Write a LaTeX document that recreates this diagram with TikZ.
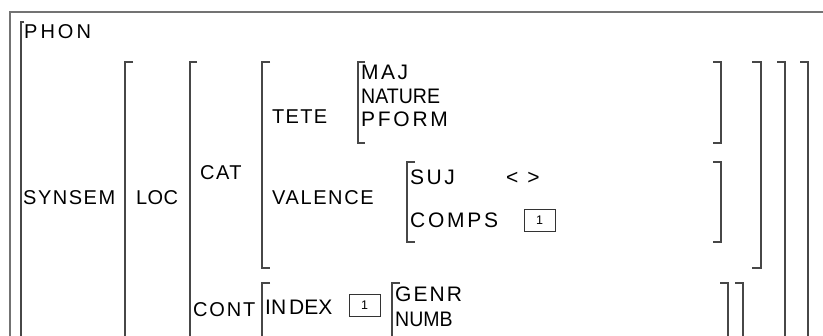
\documentclass[tikz,border=0pt]{standalone}
\usepackage{fontspec}
\setmainfont{Liberation Sans}
\newcommand\lsp[1]{\addfontfeatures{LetterSpace=#1}}
\newcommand\fst[1]{\addfontfeatures{FakeStretch=#1}}
\newcommand\lbrk[4]{\draw[brk] (#1+#4,#2) -- (#1,#2) -- (#1,#3) -- (#1+#4,#3);}
\newcommand\rbrk[4]{\draw[brk] (#1-#4,#2) -- (#1,#2) -- (#1,#3) -- (#1-#4,#3);}
\begin{document}
\begin{tikzpicture}[x=1pt,y=-1pt,
  brk/.style={draw=black!72,line width=1.2pt},
  frame/.style={draw=black!55,line width=1.6pt},
  lab/.style={anchor=base west,inner sep=0pt,font=\fontsize{20pt}{24pt}\selectfont},
  val/.style={anchor=base west,inner sep=0pt,font=\fontsize{21pt}{25pt}\selectfont},
  tagbox/.style={draw=black!80,line width=0.9pt,minimum width=31pt,minimum height=22pt,inner sep=0pt,font=\fontsize{12.5pt}{14pt}\selectfont}]
\useasboundingbox (0,0) rectangle (823,336);
\clip (0,0) rectangle (823,336);
\fill[white] (0,0) rectangle (823,336);
% outer frame
\draw[frame] (10,345) -- (10,12) -- (830,12);
% left brackets
\lbrk{21}{22}{345}{3}
\lbrk{125}{62}{345}{8}
\lbrk{190}{62}{345}{7}
\lbrk{262}{62}{268}{8}
\lbrk{358}{62}{143}{7}
\lbrk{407}{162}{242}{8}
\lbrk{262}{283}{345}{8}
\lbrk{392}{283}{345}{8}
% right brackets
\rbrk{721}{62}{143}{8}
\rbrk{721}{162}{242}{8}
\rbrk{761}{62}{268}{9}
\rbrk{785}{62}{345}{8}
\rbrk{808}{62}{345}{8}
\rbrk{728}{283}{345}{8}
\rbrk{743}{283}{345}{8}
% labels
\node[lab] (phon) at (24,39) {\lsp{15}PHON};
\node[lab] (synsem) at (23,205) {\lsp{7.5}SYNSEM};
\node[lab] (loc) at (136,205) {\lsp{2}LOC};
\node[lab] (cat) at (200,180) {\lsp{7.5}CAT};
\node[lab] (cont) at (193,317) {\lsp{9}CONT};
\node[lab] (tete) at (272,124) {\lsp{6.5}TETE};
\node[lab] (valence) at (272,205) {\lsp{8}VALENCE};
\node[val] (maj) at (361,80) {\lsp{12}MAJ};
\node[val] (nature) at (361,104) {\fst{0.93}NATURE};
\node[val] (pform) at (361,127) {\lsp{13}PFORM};
\node[val] (suj) at (410,185) {\lsp{12}SUJ};
\node[val] (list) at (506,185) {<\hspace{9pt}>};
\node[val] (comps) at (410,228) {\lsp{13}COMPS};
\node[tagbox] (tag1) at (539.5,220) {1};
\node[val] (index) at (265,315) {IN\kern3pt DEX};
\node[tagbox] (tag2) at (364.5,305.5) {1};
\node[val] (genr) at (395,302) {\lsp{10}GENR};
\node[val] (numb) at (395,327) {\fst{0.93}NUMB};
\end{tikzpicture}
\end{document}
